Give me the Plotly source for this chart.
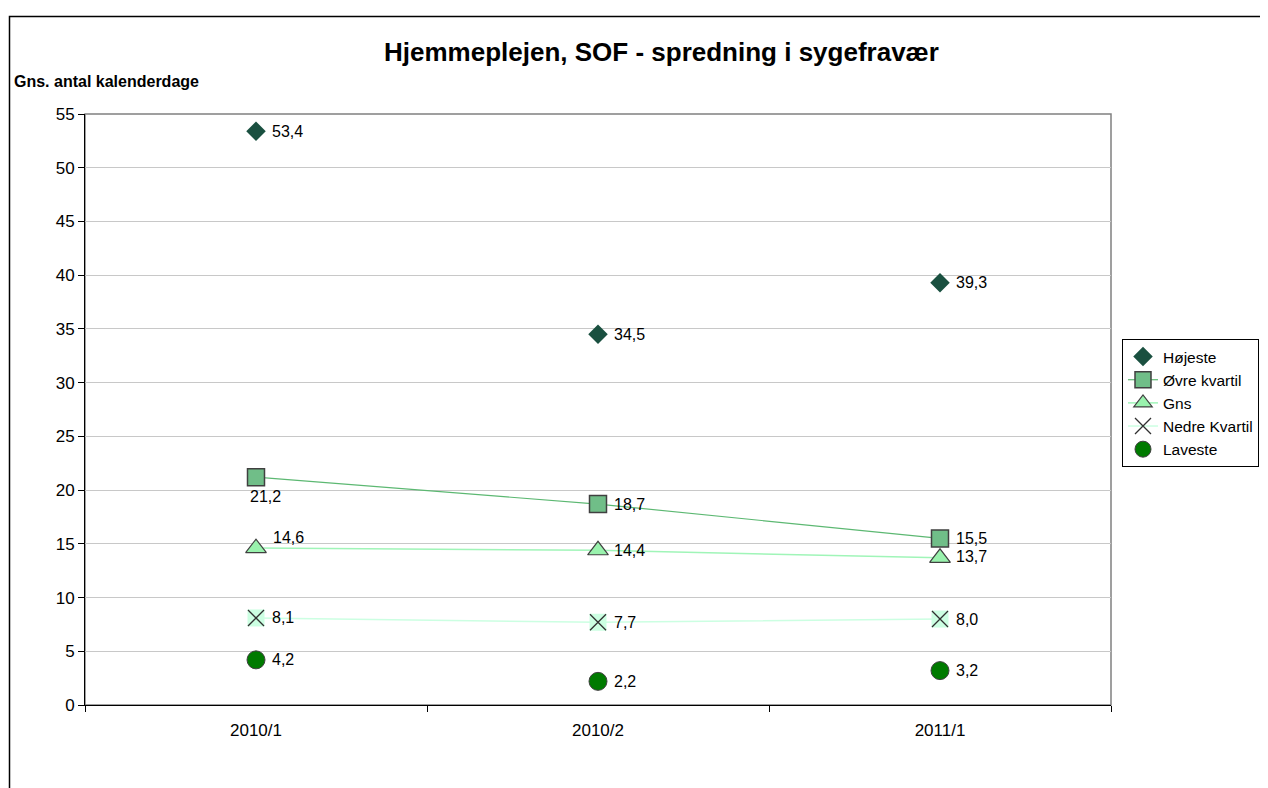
import plotly.graph_objects as go

categories = ["2010/1", "2010/2", "2011/1"]
hoejeste = [53.4, 34.5, 39.3]
oevre_kvartil = [21.2, 18.7, 15.5]
gns = [14.6, 14.4, 13.7]
nedre_kvartil = [8.1, 7.7, 8.0]
laveste = [4.2, 2.2, 3.2]

def lbl(v):
    return f"{v:.1f}".replace(".", ",")

FONT = "Arial, Liberation Sans, sans-serif"
OFF = 8  # page body margin
W, H = 1268 - OFF, 788 - OFF
# plot area in reference pixel coordinates
RL, RR, RT, RB = 85, 1111, 114, 705
L, R, T, B = RL - OFF, RR - OFF, RT - OFF, RB - OFF

def px(x):
    return (x - RL) / (RR - RL)

def py(y):
    return (RB - y) / (RB - RT)

LBL = 16
fig = go.Figure()

fig.add_trace(go.Scatter(
    x=categories, y=hoejeste, name="Højeste", mode="markers",
    marker=dict(symbol="diamond", size=15, color="#1a5040", line=dict(width=0))))

fig.add_trace(go.Scatter(
    x=categories, y=oevre_kvartil, name="Øvre kvartil", mode="lines+markers",
    line=dict(color="#5cb872", width=1.2),
    marker=dict(symbol="square", size=17, color="#70be88", line=dict(color="#404040", width=1.5))))

fig.add_trace(go.Scatter(
    x=categories, y=gns, name="Gns", mode="lines+markers",
    line=dict(color="#a0f5b8", width=1.5),
    marker=dict(symbol="triangle-up", size=18, color="#99f2ad", line=dict(color="#404040", width=1.2))))

# light square background behind X markers
fig.add_trace(go.Scatter(
    x=categories, y=nedre_kvartil, mode="markers", showlegend=False, hoverinfo="skip",
    marker=dict(symbol="square", size=17, color="#ccffe2", line=dict(width=0))))

fig.add_trace(go.Scatter(
    x=categories, y=nedre_kvartil, name="Nedre Kvartil", mode="lines+markers",
    line=dict(color="#ccffe2", width=1.5),
    marker=dict(symbol="x-thin", size=16, color="#303030", line=dict(color="#303030", width=1.3))))

fig.add_trace(go.Scatter(
    x=categories, y=laveste, name="Laveste", mode="markers",
    marker=dict(symbol="circle", size=18, color="#007a00", line=dict(color="#404040", width=1))))

# data labels (offsets in pixels relative to the marker)
annotations = []
def add_labels(vals, offsets):
    for c, v, (xa, dx, dy) in zip(categories, vals, offsets):
        annotations.append(dict(
            x=c, y=v, xref="x", yref="y", text=lbl(v), showarrow=False,
            xanchor=xa, yanchor="middle", xshift=dx, yshift=dy,
            font=dict(size=LBL, family=FONT, color="black")))

right = ("left", 14, 0)
add_labels(hoejeste, [right, right, right])
add_labels(oevre_kvartil, [("center", 9, -19), right, right])
add_labels(gns, [("left", 15, 11), right, ("left", 14, 1)])
add_labels(nedre_kvartil, [right, right, right])
add_labels(laveste, [right, right, right])

annotations += [
    dict(text="<b>Hjemmeplejen, SOF - spredning i sygefravær</b>", xref="paper", yref="paper",
         x=px(661), y=py(52), xanchor="center", yanchor="middle", showarrow=False,
         font=dict(size=26, family=FONT, color="black")),
    dict(text="<b>Gns. antal kalenderdage</b>", xref="paper", yref="paper",
         x=px(12), y=py(82), xanchor="left", yanchor="middle", showarrow=False,
         font=dict(size=16, family=FONT, color="black")),
]

fig.update_layout(
    width=W, height=H,
    margin=dict(l=L, r=W - R, t=T, b=H - B, autoexpand=False),
    paper_bgcolor="white", plot_bgcolor="white",
    font=dict(family=FONT, size=17, color="black"),
    showlegend=True,
    legend=dict(x=px(1122), y=py(339), xanchor="left", yanchor="top",
                bordercolor="black", borderwidth=1, bgcolor="white",
                font=dict(size=15.5, family=FONT, color="black"),
                tracegroupgap=0, itemwidth=30),
    xaxis=dict(type="category", range=[-0.5, 2.5], showgrid=False,
               showline=True, linecolor="black", linewidth=1,
               ticks="outside", tickson="boundaries", ticklen=6, tickcolor="black",
               ticklabelstandoff=10,
               tickfont=dict(size=17, family=FONT), fixedrange=True, zeroline=False),
    yaxis=dict(range=[0, 55], dtick=5, tick0=0, showgrid=True, gridcolor="#c8c8c8",
               showline=True, linecolor="black", linewidth=1,
               ticks="outside", ticklen=6, tickcolor="black",
               tickfont=dict(size=17, family=FONT), zeroline=False, fixedrange=True),
    shapes=[
        dict(type="rect", xref="paper", yref="paper", x0=0, x1=1, y0=0, y1=1,
             line=dict(color="#808080", width=1.5), layer="below"),
        dict(type="rect", xref="paper", yref="paper", x0=px(9.5), x1=px(1320),
             y0=py(840), y1=py(16.5), line=dict(color="black", width=1.5), layer="below"),
    ],
    annotations=annotations,
)

fig.write_html("out.html")
